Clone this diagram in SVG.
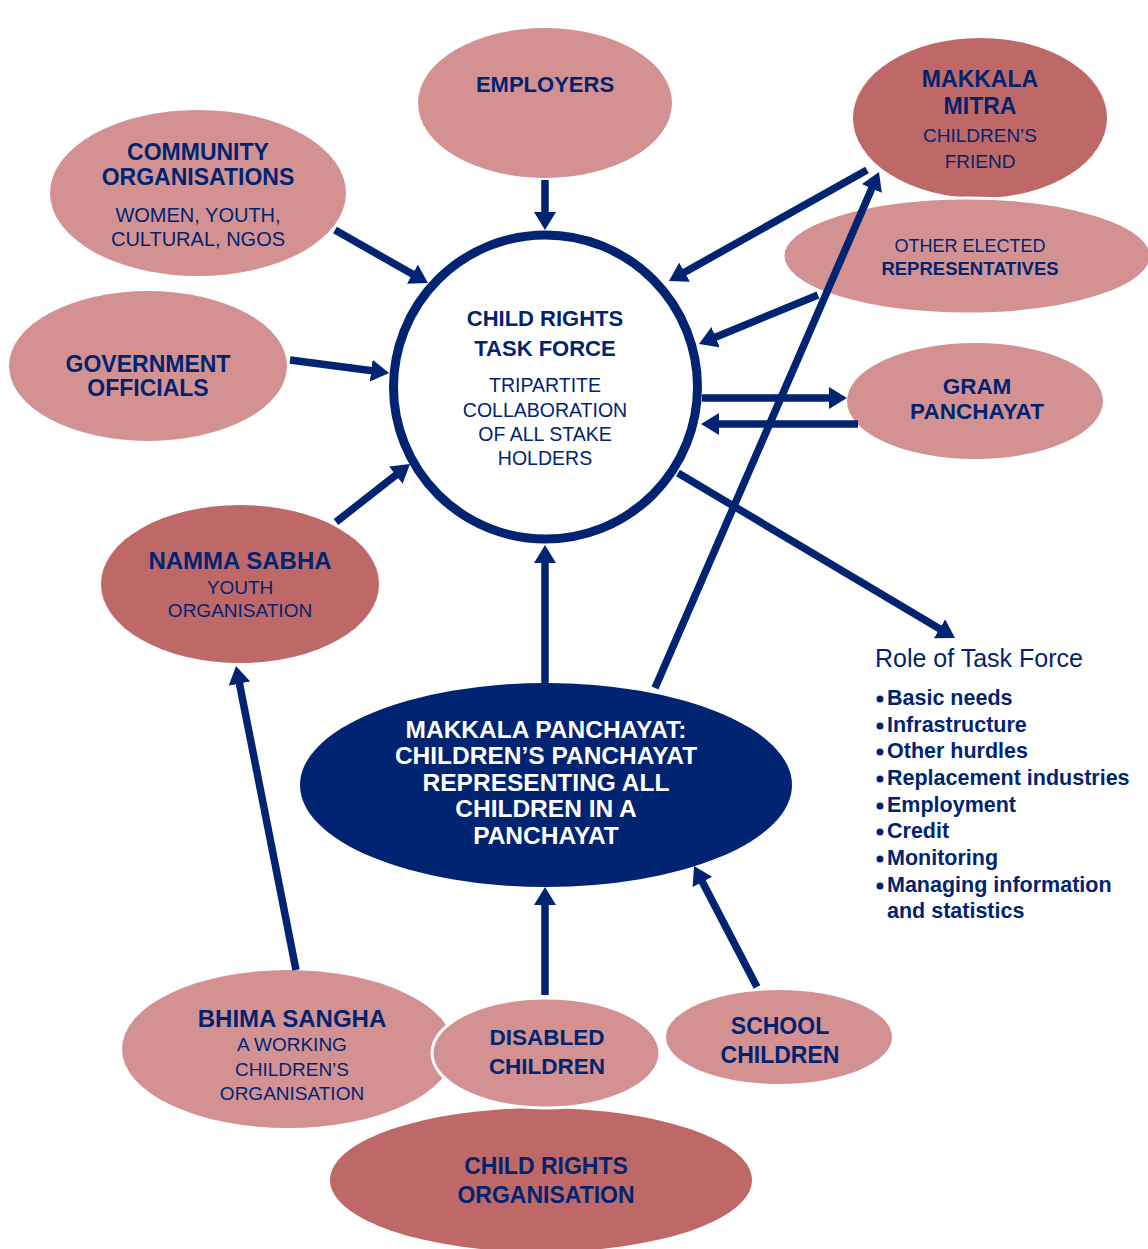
<svg xmlns="http://www.w3.org/2000/svg" width="1148" height="1249" viewBox="0 0 1148 1249">
  <defs>
    <marker id="head" markerUnits="userSpaceOnUse" viewBox="0 0 18 22" markerWidth="18" markerHeight="22" refX="1" refY="11" orient="auto">
      <path d="M0,0 L18,11 L0,22 z" fill="#002471"/>
    </marker>
    <style>
      .light { fill: #D49191; }
      .dark { fill: #BF6868; }
      .navy { fill: #002471; }
      .outline { stroke: #FFFFFF; stroke-width: 3; }
      text { font-family: "Liberation Sans", Arial, sans-serif; fill: #002471; text-anchor: middle; }
      .b { font-weight: bold; }
      .w { fill: #FFFFFF; font-weight: bold; }
      .list { text-anchor: start; font-weight: bold; font-size: 21.5px; }
      .link { fill: none; stroke: #002471; stroke-width: 7.5; marker-end: url(#head); }
    </style>
  </defs>
  <rect width="1148" height="1249" fill="#FFFFFF"/>

  <!-- central task force -->
  <g id="task-force">
    <circle cx="545.5" cy="387" r="152" fill="#FFFFFF" stroke="#002471" stroke-width="9"/>
    <text x="545" y="326" class="b" font-size="22">CHILD RIGHTS</text>
    <text x="545" y="356" class="b" font-size="22">TASK FORCE</text>
    <text x="545" y="392" font-size="19.5">TRIPARTITE</text>
    <text x="545" y="417" font-size="19.5">COLLABORATION</text>
    <text x="545" y="441" font-size="19.5">OF ALL STAKE</text>
    <text x="545" y="465" font-size="19.5">HOLDERS</text>
  </g>

  <g id="employers">
    <ellipse cx="545" cy="103" rx="127" ry="75" class="light"/>
    <text x="545" y="92" class="b" font-size="22">EMPLOYERS</text>
  </g>

  <g id="community-organisations">
    <ellipse cx="198" cy="193" rx="148" ry="83" class="light"/>
    <text x="198" y="160" class="b" font-size="23">COMMUNITY</text>
    <text x="198" y="185" class="b" font-size="23">ORGANISATIONS</text>
    <text x="198" y="222" font-size="20">WOMEN, YOUTH,</text>
    <text x="198" y="246" font-size="20">CULTURAL, NGOS</text>
  </g>

  <g id="government-officials">
    <ellipse cx="148" cy="366" rx="139" ry="75" class="light"/>
    <text x="148" y="372" class="b" font-size="23">GOVERNMENT</text>
    <text x="148" y="396" class="b" font-size="23">OFFICIALS</text>
  </g>

  <g id="namma-sabha">
    <ellipse cx="240" cy="584" rx="139" ry="79" class="dark"/>
    <text x="240" y="569" class="b" font-size="24">NAMMA SABHA</text>
    <text x="240" y="594" font-size="19">YOUTH</text>
    <text x="240" y="617" font-size="19">ORGANISATION</text>
  </g>

  <g id="makkala-mitra">
    <ellipse cx="980" cy="118" rx="127" ry="80" class="dark"/>
    <text x="980" y="87" class="b" font-size="23">MAKKALA</text>
    <text x="980" y="114" class="b" font-size="23">MITRA</text>
    <text x="980" y="142" font-size="19">CHILDREN’S</text>
    <text x="980" y="168" font-size="19">FRIEND</text>
  </g>

  <g id="other-elected-representatives">
    <ellipse cx="967" cy="256" rx="184" ry="58" class="light outline"/>
    <text x="970" y="252" font-size="18">OTHER ELECTED</text>
    <text x="970" y="275" class="b" font-size="18.5">REPRESENTATIVES</text>
  </g>

  <g id="gram-panchayat">
    <ellipse cx="975" cy="401" rx="128" ry="58" class="light"/>
    <text x="977" y="394" class="b" font-size="22.5">GRAM</text>
    <text x="977" y="419" class="b" font-size="22.5">PANCHAYAT</text>
  </g>

  <g id="makkala-panchayat">
    <ellipse cx="546" cy="785" rx="246" ry="102" class="navy"/>
    <text x="546" y="738" class="w" font-size="24.5">MAKKALA PANCHAYAT:</text>
    <text x="546" y="764" class="w" font-size="24.5">CHILDREN’S PANCHAYAT</text>
    <text x="546" y="791" class="w" font-size="24.5">REPRESENTING ALL</text>
    <text x="546" y="817" class="w" font-size="24.5">CHILDREN IN A</text>
    <text x="546" y="844" class="w" font-size="24.5">PANCHAYAT</text>
  </g>

  <g id="child-rights-organisation">
    <ellipse cx="541" cy="1180" rx="211" ry="72" class="dark"/>
    <text x="546" y="1174" class="b" font-size="23">CHILD RIGHTS</text>
    <text x="546" y="1203" class="b" font-size="23">ORGANISATION</text>
  </g>

  <g id="bhima-sangha">
    <ellipse cx="288" cy="1049" rx="166" ry="79" class="light"/>
    <text x="292" y="1027" class="b" font-size="24">BHIMA SANGHA</text>
    <text x="292" y="1051" font-size="19">A WORKING</text>
    <text x="292" y="1076" font-size="19">CHILDREN’S</text>
    <text x="292" y="1100" font-size="19">ORGANISATION</text>
  </g>

  <g id="disabled-children">
    <ellipse cx="546" cy="1053" rx="114" ry="55" class="light outline"/>
    <text x="547" y="1045" class="b" font-size="22.5">DISABLED</text>
    <text x="547" y="1074" class="b" font-size="22.5">CHILDREN</text>
  </g>

  <g id="school-children">
    <ellipse cx="779" cy="1037" rx="113" ry="47" class="light"/>
    <text x="780" y="1034" class="b" font-size="23">SCHOOL</text>
    <text x="780" y="1063" class="b" font-size="23">CHILDREN</text>
  </g>

  <g id="role-of-task-force">
    <text x="875" y="667" font-size="25" style="text-anchor:start">Role of Task Force</text>
    <g class="navy">
      <circle cx="880" cy="699" r="3.5"/>
      <circle cx="880" cy="726" r="3.5"/>
      <circle cx="880" cy="752" r="3.5"/>
      <circle cx="880" cy="779" r="3.5"/>
      <circle cx="880" cy="806" r="3.5"/>
      <circle cx="880" cy="832" r="3.5"/>
      <circle cx="880" cy="859" r="3.5"/>
      <circle cx="880" cy="886" r="3.5"/>
    </g>
    <text x="887" y="705" class="list">Basic needs</text>
    <text x="887" y="732" class="list">Infrastructure</text>
    <text x="887" y="758" class="list">Other hurdles</text>
    <text x="887" y="785" class="list">Replacement industries</text>
    <text x="887" y="812" class="list">Employment</text>
    <text x="887" y="838" class="list">Credit</text>
    <text x="887" y="865" class="list">Monitoring</text>
    <text x="887" y="892" class="list">Managing information</text>
    <text x="887" y="918" class="list">and statistics</text>
  </g>

  <!-- connectors: each line stops at the base of its arrowhead -->
  <g id="connectors">
    <path class="link" d="M545,180 L545,213"/>
    <path class="link" d="M335,230 L413.2,274.6"/>
    <path class="link" d="M290,360 L372.2,370.8"/>
    <path class="link" d="M336,522 L396.6,474.5"/>
    <path class="link" d="M867,170 L683.8,272.7"/>
    <path class="link" d="M818,295 L714.7,337.5"/>
    <path class="link" d="M702,398 L830,398"/>
    <path class="link" d="M858,424 L718,424"/>
    <path class="link" d="M678,473 L940.4,629.3"/>
    <path class="link" d="M545,683 L545,562"/>
    <path class="link" d="M655,688 L872.2,187.6"/>
    <path class="link" d="M296,970 L239.3,682.7"/>
    <path class="link" d="M545,995 L545,904"/>
    <path class="link" d="M757,987 L701.9,881.1"/>
  </g>
</svg>
